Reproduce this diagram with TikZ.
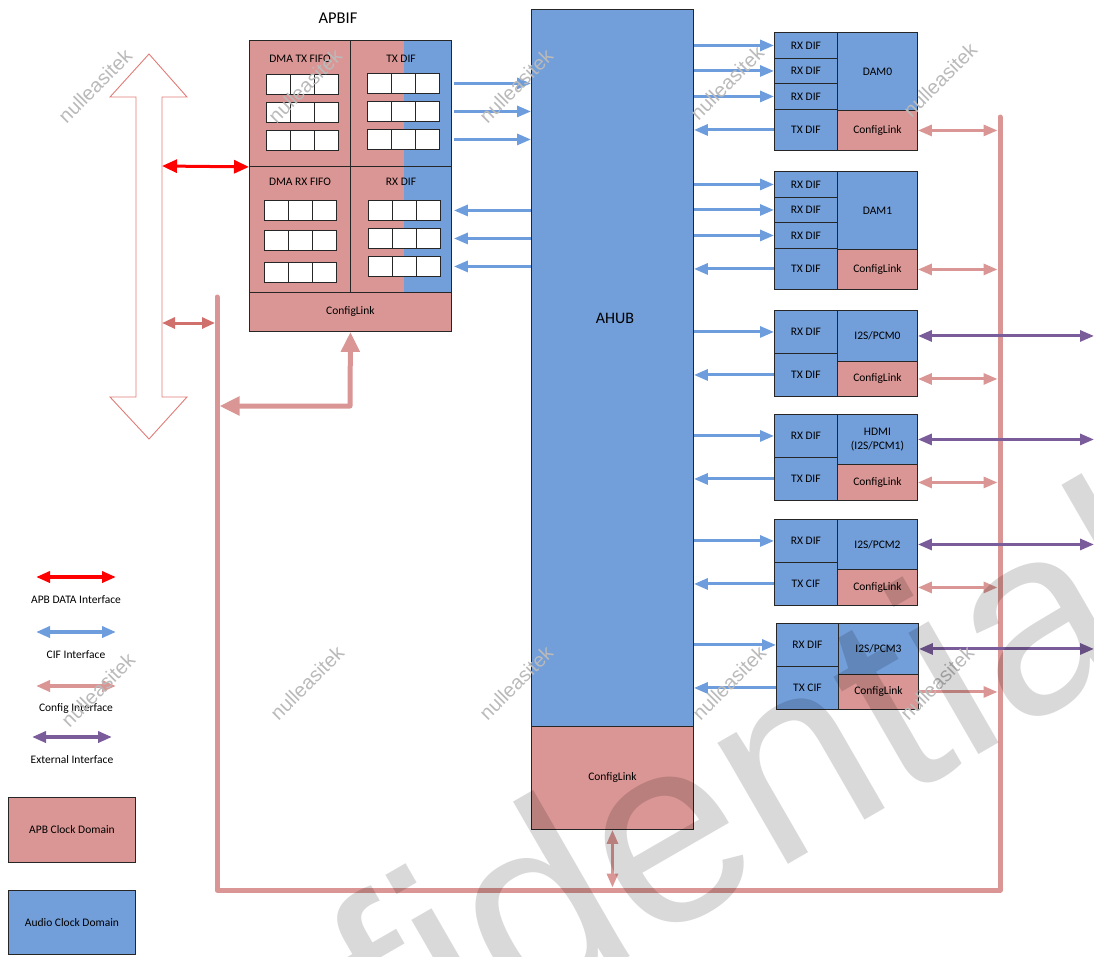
\documentclass[tikz,border=0pt]{standalone}
\usepackage{fontspec}
\setmainfont{Carlito}
\newfontfamily\wmfont{Liberation Sans}
\usepackage{tikz}
\usetikzlibrary{arrows.meta, positioning, calc}
\definecolor{apbfill}{HTML}{DA9694}
\definecolor{audfill}{HTML}{729EDA}
\definecolor{cifline}{HTML}{6E9DDD}
\definecolor{cfgline}{HTML}{DA9694}
\definecolor{cfgdark}{HTML}{CF706C}
\definecolor{extline}{HTML}{7A5C9B}
\definecolor{apbred}{HTML}{FF0000}
\definecolor{hollowline}{HTML}{E07C76}
\tikzset{
  cifhead/.tip = {Triangle[length=14pt,width=11pt]},
  cfghead/.tip = {Triangle[length=14pt,width=11pt]},
  bighead/.tip = {Triangle[length=20pt,width=18pt]},
  blk/.style    = {draw=black!85, line width=0.9pt, inner sep=0pt, anchor=north west,
                   font=\fontsize{11.5}{13.5}\selectfont, align=center},
  apbblk/.style = {blk, fill=apbfill},
  audblk/.style = {blk, fill=audfill},
  cell/.style   = {draw=black!85, line width=0.9pt, fill=white, inner sep=0pt,
                   minimum width=24pt, minimum height=20pt, anchor=north west},
  lbl/.style    = {font=\fontsize{11.5}{13.5}\selectfont, inner sep=0pt},
  cif/.style    = {line width=3pt, draw=cifline, -cifhead},
  cfg/.style    = {line width=3pt, draw=cfgline, cfghead-cfghead},
  ext/.style    = {line width=3pt, draw=extline, cifhead-cifhead},
  bus/.style    = {line width=5pt, draw=cfgline, line cap=round, line join=round},
  wmark/.style  = {font=\wmfont\fontsize{20}{20}\selectfont, text=black!27, rotate=45},
}

\begin{document}
\begin{tikzpicture}[x=1pt, y=-1pt]
  \useasboundingbox (0,0) rectangle (1094,956);

  % APBIF
  \node[font=\fontsize{16.5}{18}\selectfont] (apbiftitle) at (338,18) {APBIF};
  \node[apbblk, minimum width=101pt, minimum height=126pt] (txfifo) at (249,40) {};
  \node[apbblk, minimum width=101pt, minimum height=126pt] (txdif) at (350,40) {};
  \node[apbblk, minimum width=101pt, minimum height=126pt] (rxfifo) at (249,166) {};
  \node[apbblk, minimum width=101pt, minimum height=126pt] (rxdif) at (350,166) {};
  \node[apbblk, minimum width=202pt, minimum height=39pt] (apbcfg) at (249,292) {ConfigLink};
  \fill[audfill] ($(txdif.north east)+(-48,0)$) rectangle (rxdif.south east);
  \draw[draw=black!85, line width=0.9pt] (txdif.north west) rectangle (txdif.south east);
  \draw[draw=black!85, line width=0.9pt] (rxdif.north west) rectangle (rxdif.south east);
  \node[lbl] (txfifolbl) at (300,59) {DMA TX FIFO};
  \node[lbl] (txdiflbl) at (401,59) {TX DIF};
  \node[lbl] (rxfifolbl) at (300,182) {DMA RX FIFO};
  \node[lbl] (rxdiflbl) at (401,182) {RX DIF};
  \foreach \y [count=\r] in {74,102,130}
    \foreach \k in {0,1,2} \node[cell] (txf\r\k) at ({266+24*\k},\y) {};
  \foreach \y [count=\r] in {73,101,129}
    \foreach \k in {0,1,2} \node[cell] (txd\r\k) at ({367+24*\k},\y) {};
  \foreach \y [count=\r] in {200,230,262}
    \foreach \k in {0,1,2} \node[cell] (rxf\r\k) at ({264+24*\k},\y) {};
  \foreach \y [count=\r] in {200,228,256}
    \foreach \k in {0,1,2} \node[cell] (rxd\r\k) at ({368+24*\k},\y) {};

  % AHUB
  \node[audblk, minimum width=162pt, minimum height=717pt] (ahub) at (531,9) {};
  \node[font=\fontsize{16}{18}\selectfont] (ahublbl) at (615,318) {AHUB};
  \node[apbblk, minimum width=162pt, minimum height=103pt] (ahubcfg) at (531,726) {ConfigLink};

  % DAM0
  \node[audblk, minimum width=63pt, minimum height=26pt] (d0rx1) at (774,32) {RX DIF};
  \node[audblk, minimum width=63pt, minimum height=25pt] (d0rx2) at (774,58) {RX DIF};
  \node[audblk, minimum width=63pt, minimum height=26pt] (d0rx3) at (774,83) {RX DIF};
  \node[audblk, minimum width=63pt, minimum height=41pt] (d0tx) at (774,109) {TX DIF};
  \node[audblk, minimum width=80pt, minimum height=78pt] (dam0) at (837,32) {DAM0};
  \node[apbblk, minimum width=80pt, minimum height=40pt] (d0cfg) at (837,110) {ConfigLink};
  % DAM1
  \node[audblk, minimum width=63pt, minimum height=26pt] (d1rx1) at (774,171) {RX DIF};
  \node[audblk, minimum width=63pt, minimum height=25pt] (d1rx2) at (774,197) {RX DIF};
  \node[audblk, minimum width=63pt, minimum height=26pt] (d1rx3) at (774,222) {RX DIF};
  \node[audblk, minimum width=63pt, minimum height=41pt] (d1tx) at (774,248) {TX DIF};
  \node[audblk, minimum width=80pt, minimum height=78pt] (dam1) at (837,171) {DAM1};
  \node[apbblk, minimum width=80pt, minimum height=40pt] (d1cfg) at (837,249) {ConfigLink};
  % I2S/PCM0
  \node[audblk, minimum width=63pt, minimum height=43pt] (p0rx) at (774,310) {RX DIF};
  \node[audblk, minimum width=63pt, minimum height=43pt] (p0tx) at (774,353) {TX DIF};
  \node[audblk, minimum width=80pt, minimum height=51pt] (p0i2s) at (837,310) {I2S/PCM0};
  \node[apbblk, minimum width=80pt, minimum height=35pt] (p0cfg) at (837,361) {ConfigLink};
  % HDMI
  \node[audblk, minimum width=63pt, minimum height=43pt] (p1rx) at (774,414) {RX DIF};
  \node[audblk, minimum width=63pt, minimum height=43pt] (p1tx) at (774,457) {TX DIF};
  \node[audblk, minimum width=80pt, minimum height=50pt] (p1i2s) at (837,414) {HDMI\\(I2S/PCM1)};
  \node[apbblk, minimum width=80pt, minimum height=36pt] (p1cfg) at (837,464) {ConfigLink};
  % I2S/PCM2
  \node[audblk, minimum width=63pt, minimum height=43pt] (p2rx) at (774,519) {RX DIF};
  \node[audblk, minimum width=63pt, minimum height=43pt] (p2tx) at (774,562) {TX CIF};
  \node[audblk, minimum width=80pt, minimum height=50pt] (p2i2s) at (837,519) {I2S/PCM2};
  \node[apbblk, minimum width=80pt, minimum height=36pt] (p2cfg) at (837,569) {ConfigLink};
  % I2S/PCM3
  \node[audblk, minimum width=62pt, minimum height=43pt] (p3rx) at (776,623) {RX DIF};
  \node[audblk, minimum width=62pt, minimum height=43pt] (p3tx) at (776,666) {TX CIF};
  \node[audblk, minimum width=80pt, minimum height=51pt] (p3i2s) at (838,623) {I2S/PCM3};
  \node[apbblk, minimum width=80pt, minimum height=35pt] (p3cfg) at (838,674) {ConfigLink};

  % config bus
  \coordinate (busTR) at (1000,117);
  \coordinate (busBR) at (1000,890);
  \coordinate (busBL) at (217,890);
  \coordinate (busTL) at (217,297);
  \draw[bus] (busTR) -- (busBR) -- (busBL) -- (busTL);

  % CIF arrows
  \foreach \r in {1,2,3} {
    \draw[cif] ($(txd\r2.east -| txdif.east)+(2,0)$) -- (txd\r2.east -| ahub.west);
    \draw[cif] (rxd\r2.east -| ahub.west) -- ($(rxd\r2.east -| rxdif.east)+(2,0)$);
  }
  \foreach \s in {d0rx1,d0rx2,d0rx3,d1rx1,d1rx2,d1rx3,p0rx,p1rx,p2rx,p3rx}
    \draw[cif] (\s.west -| ahub.east) -- (\s.west);
  \foreach \s in {d0tx,d1tx,p0tx,p1tx,p2tx,p3tx}
    \draw[cif] (\s.west) -- (\s.west -| ahub.east);

  % config arrows
  \foreach \s in {d0cfg,d1cfg,p0cfg,p1cfg,p2cfg}
    \draw[cfg] (\s.east) -- ($(\s.east -| busTR)+(-2.5,0)$);
  \draw[line width=3pt, draw=cfgline, -cfghead] (p3cfg.east) -- ($(p3cfg.east -| busTR)+(-2.5,0)$);
  \draw[cfg] (ahubcfg.south) -- ($(ahubcfg.south |- busBL)+(0,-2.5)$);

  % external arrows
  \coordinate (extR) at (1094,0);
  \foreach \s in {p0i2s,p1i2s,p2i2s,p3i2s}
    \draw[ext] (\s.east) -- (\s.east -| extR);

  % APB bus
  \draw[hollowline, line width=0.9pt] (149,54) -- (187,97) -- (162,97) -- (162,397) -- (187,397)
    -- (149,439) -- (110,397) -- (136,397) -- (136,97) -- (110,97) -- cycle;
  \coordinate (shaftR) at (162,166);
  \draw[line width=3pt, draw=apbred, {Triangle[length=15pt,width=13pt]}-{Triangle[length=15pt,width=13pt]}]
    (shaftR) -- (txfifo.south west);
  \coordinate (smallL) at (162,323);
  \coordinate (smallR) at (215,323);
  \draw[line width=3pt, draw=cfgdark, {Triangle[length=13pt,width=11pt]}-{Triangle[length=13pt,width=11pt]}]
    (smallL) -- (smallR);
  \coordinate (apbturn) at (350,406);
  \draw[line width=5pt, draw=cfgline, line join=round, bighead-bighead]
    (apbcfg.south) -- (apbturn) -- ($(apbturn -| busTL)+(2.5,0)$);

  % legend
  \coordinate (lg1a) at (36,577);  \coordinate (lg1b) at (116,577);
  \coordinate (lg2a) at (36,632);  \coordinate (lg2b) at (116,632);
  \coordinate (lg3a) at (36,686);  \coordinate (lg3b) at (116,686);
  \coordinate (lg4a) at (32,737);  \coordinate (lg4b) at (112,737);
  \draw[line width=4pt, draw=apbred, cifhead-cifhead] (lg1a) -- (lg1b);
  \draw[line width=4pt, draw=cifline, cifhead-cifhead] (lg2a) -- (lg2b);
  \draw[line width=4pt, draw=cfgline, cifhead-cifhead] (lg3a) -- (lg3b);
  \draw[line width=4pt, draw=extline, cifhead-cifhead] (lg4a) -- (lg4b);
  \node[lbl] (lg1) at (76,600) {APB DATA Interface};
  \node[lbl] (lg2) at (76,655) {CIF Interface};
  \node[lbl] (lg3) at (76,708) {Config Interface};
  \node[lbl] (lg4) at (72,760) {External Interface};
  \node[apbblk, minimum width=127pt, minimum height=65pt] (lgapb) at (8,797) {APB Clock Domain};
  \node[audblk, minimum width=127pt, minimum height=64pt] (lgaud) at (8,890) {Audio Clock Domain};

  % watermarks
  \foreach \x/\y [count=\i] in {95/86, 305/86, 516/86, 727/83, 940/80,
                                98/690, 307/683, 516/683, 729/683, 937/683}
    \node[wmark] (wm\i) at (\x,\y) {nulleasitek};
  \node[font=\wmfont\fontsize{265}{265}\selectfont, text=black, text opacity=0.15,
        rotate=30, anchor=base] (confmark) at (798,859) {fidential};
\end{tikzpicture}
\end{document}
